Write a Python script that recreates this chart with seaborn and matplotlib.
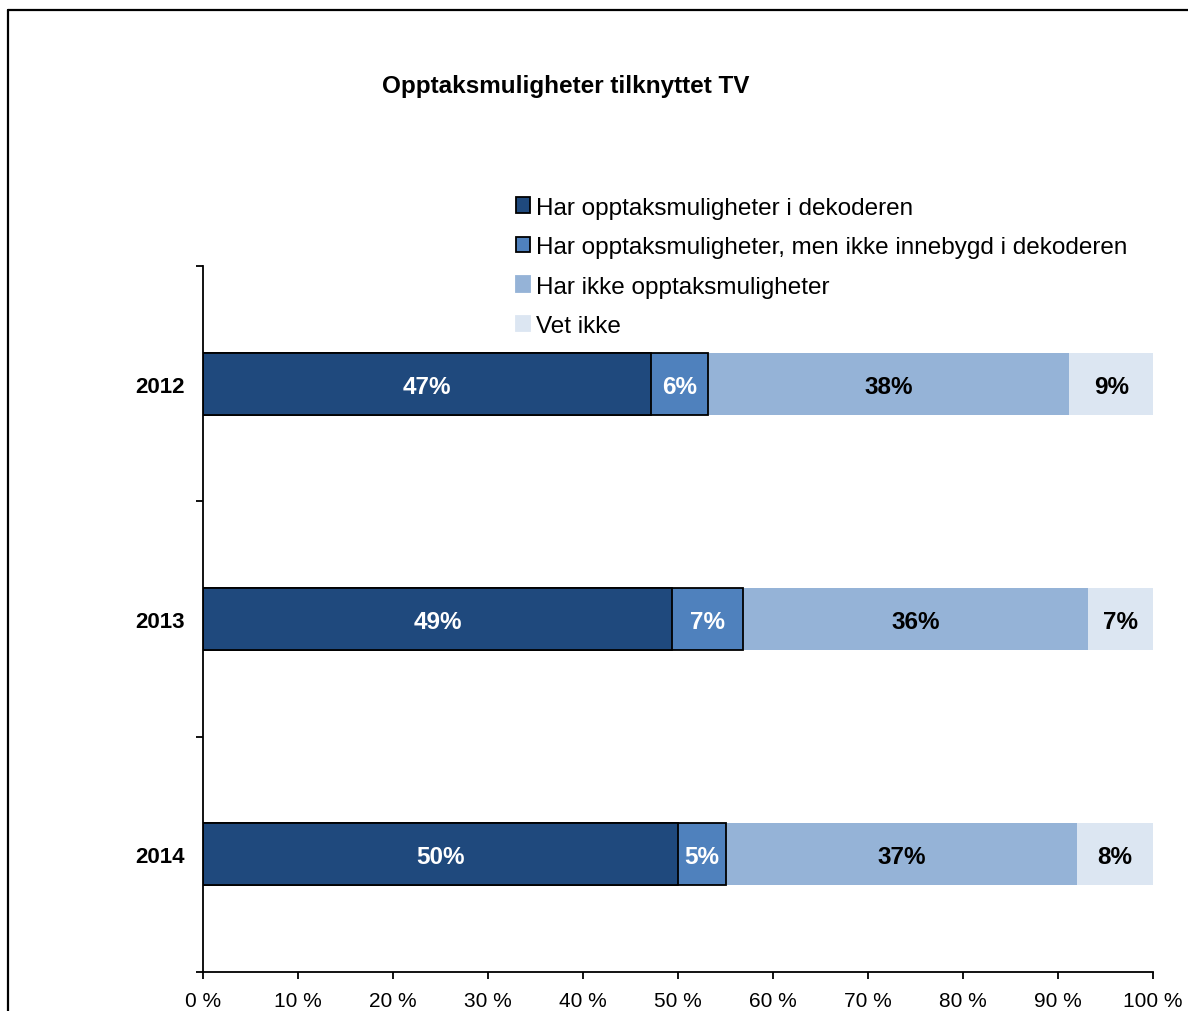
import matplotlib
matplotlib.use("Agg")
import matplotlib.pyplot as plt
from matplotlib.lines import Line2D
from matplotlib.patches import Patch
import numpy as np
import pandas as pd
import seaborn as sns

# --- dados ---
aar = ["2012", "2013", "2014"]
serier = [
    "Har opptaksmuligheter i dekoderen",
    "Har opptaksmuligheter, men ikke innebygd i dekoderen",
    "Har ikke opptaksmuligheter",
    "Vet ikke",
]
i_dekoder = [47.2, 49.4, 50.0]
ikke_innebygd = [6.0, 7.4, 5.1]
ikke_opptak = [38.0, 36.4, 36.9]
vet_ikke = [8.8, 6.8, 8.0]

farger = ["#1F497D", "#4F81BD", "#95B3D7", "#DCE6F2"]
kanter = ["black", "black", "none", "none"]
tekstfarger = ["white", "white", "black", "black"]

sns.set_theme(style="white")
plt.rcParams["font.family"] = ["Liberation Sans", "DejaVu Sans"]
plt.rcParams["text.color"] = "black"
plt.rcParams["xtick.color"] = "black"
plt.rcParams["ytick.color"] = "black"

df = pd.DataFrame({"aar": aar, serier[0]: i_dekoder, serier[1]: ikke_innebygd,
                   serier[2]: ikke_opptak, serier[3]: vet_ikke})
verdier = df[serier].to_numpy()
kum = np.cumsum(verdier, axis=1)

fig = plt.figure(figsize=(11.88, 10.12), dpi=100)
ax = fig.add_axes([203 / 1188, 1 - 973 / 1012, 950 / 1188, 706 / 1012])

# stablede stolper: tegn kumulative summer fra største til minste
for i in range(len(serier) - 1, -1, -1):
    sns.barplot(x=kum[:, i], y=df["aar"], orient="h", color=farger[i], saturation=1,
                width=0.263, edgecolor=kanter[i], linewidth=1.3, ax=ax)

# verdietiketter
for r in range(len(aar)):
    start = 0
    for i in range(len(serier)):
        v = verdier[r, i]
        ax.text(start + v / 2, r + 0.01, f"{round(v):.0f}%", ha="center", va="center",
                color=tekstfarger[i], fontsize=17.5, fontweight="bold")
        start += v

ax.set_xlim(0, 100)
ax.set_ylim(2.5, -0.5)
ax.set_xticks(np.arange(0, 101, 10))
ax.set_xticklabels([f"{t} %" for t in range(0, 101, 10)], fontsize=15)
ax.set_yticks(range(len(aar)))
ax.set_yticklabels(aar, fontsize=16, fontweight="bold")
ax.set_yticks([-0.5, 0.5, 1.5, 2.5], minor=True)
ax.tick_params(axis="y", which="major", length=0, pad=13)
ax.tick_params(axis="y", which="minor", length=5, width=1.3, color="black", direction="out", left=True)
ax.tick_params(axis="x", length=5, width=1.3, color="black", direction="out", bottom=True, pad=9)
ax.set_xlabel("")
ax.set_ylabel("")
for s in ["top", "right"]:
    ax.spines[s].set_visible(False)
for s in ["left", "bottom"]:
    ax.spines[s].set_color("black")
    ax.spines[s].set_linewidth(1.3)

# tittel
fig.text(566 / 1188, 1 - 87 / 1012, "Opptaksmuligheter tilknyttet TV", ha="center", va="center",
         fontsize=17.5, fontweight="bold", color="black")

# legende
handles = [Patch(facecolor=farger[i], edgecolor=kanter[i] if kanter[i] != "none" else farger[i],
                 linewidth=1.3) for i in range(len(serier))]
fig.legend(handles, serier, loc="upper left", bbox_to_anchor=(506 / 1188, 1 - 188 / 1012),
           frameon=False, fontsize=17.5, handlelength=0.6, handleheight=0.6,
           handletextpad=0.25, labelspacing=0.72, borderaxespad=0, labelcolor="black")

# ramme rundt diagrammet
fig.add_artist(Line2D([8 / 1188, 8 / 1188], [1 - 11 / 1012, 0], color="black", linewidth=1.6))
fig.add_artist(Line2D([8 / 1188, 1], [1 - 11 / 1012, 1 - 11 / 1012], color="black", linewidth=1.6))

fig.savefig("out.png", dpi=100)
